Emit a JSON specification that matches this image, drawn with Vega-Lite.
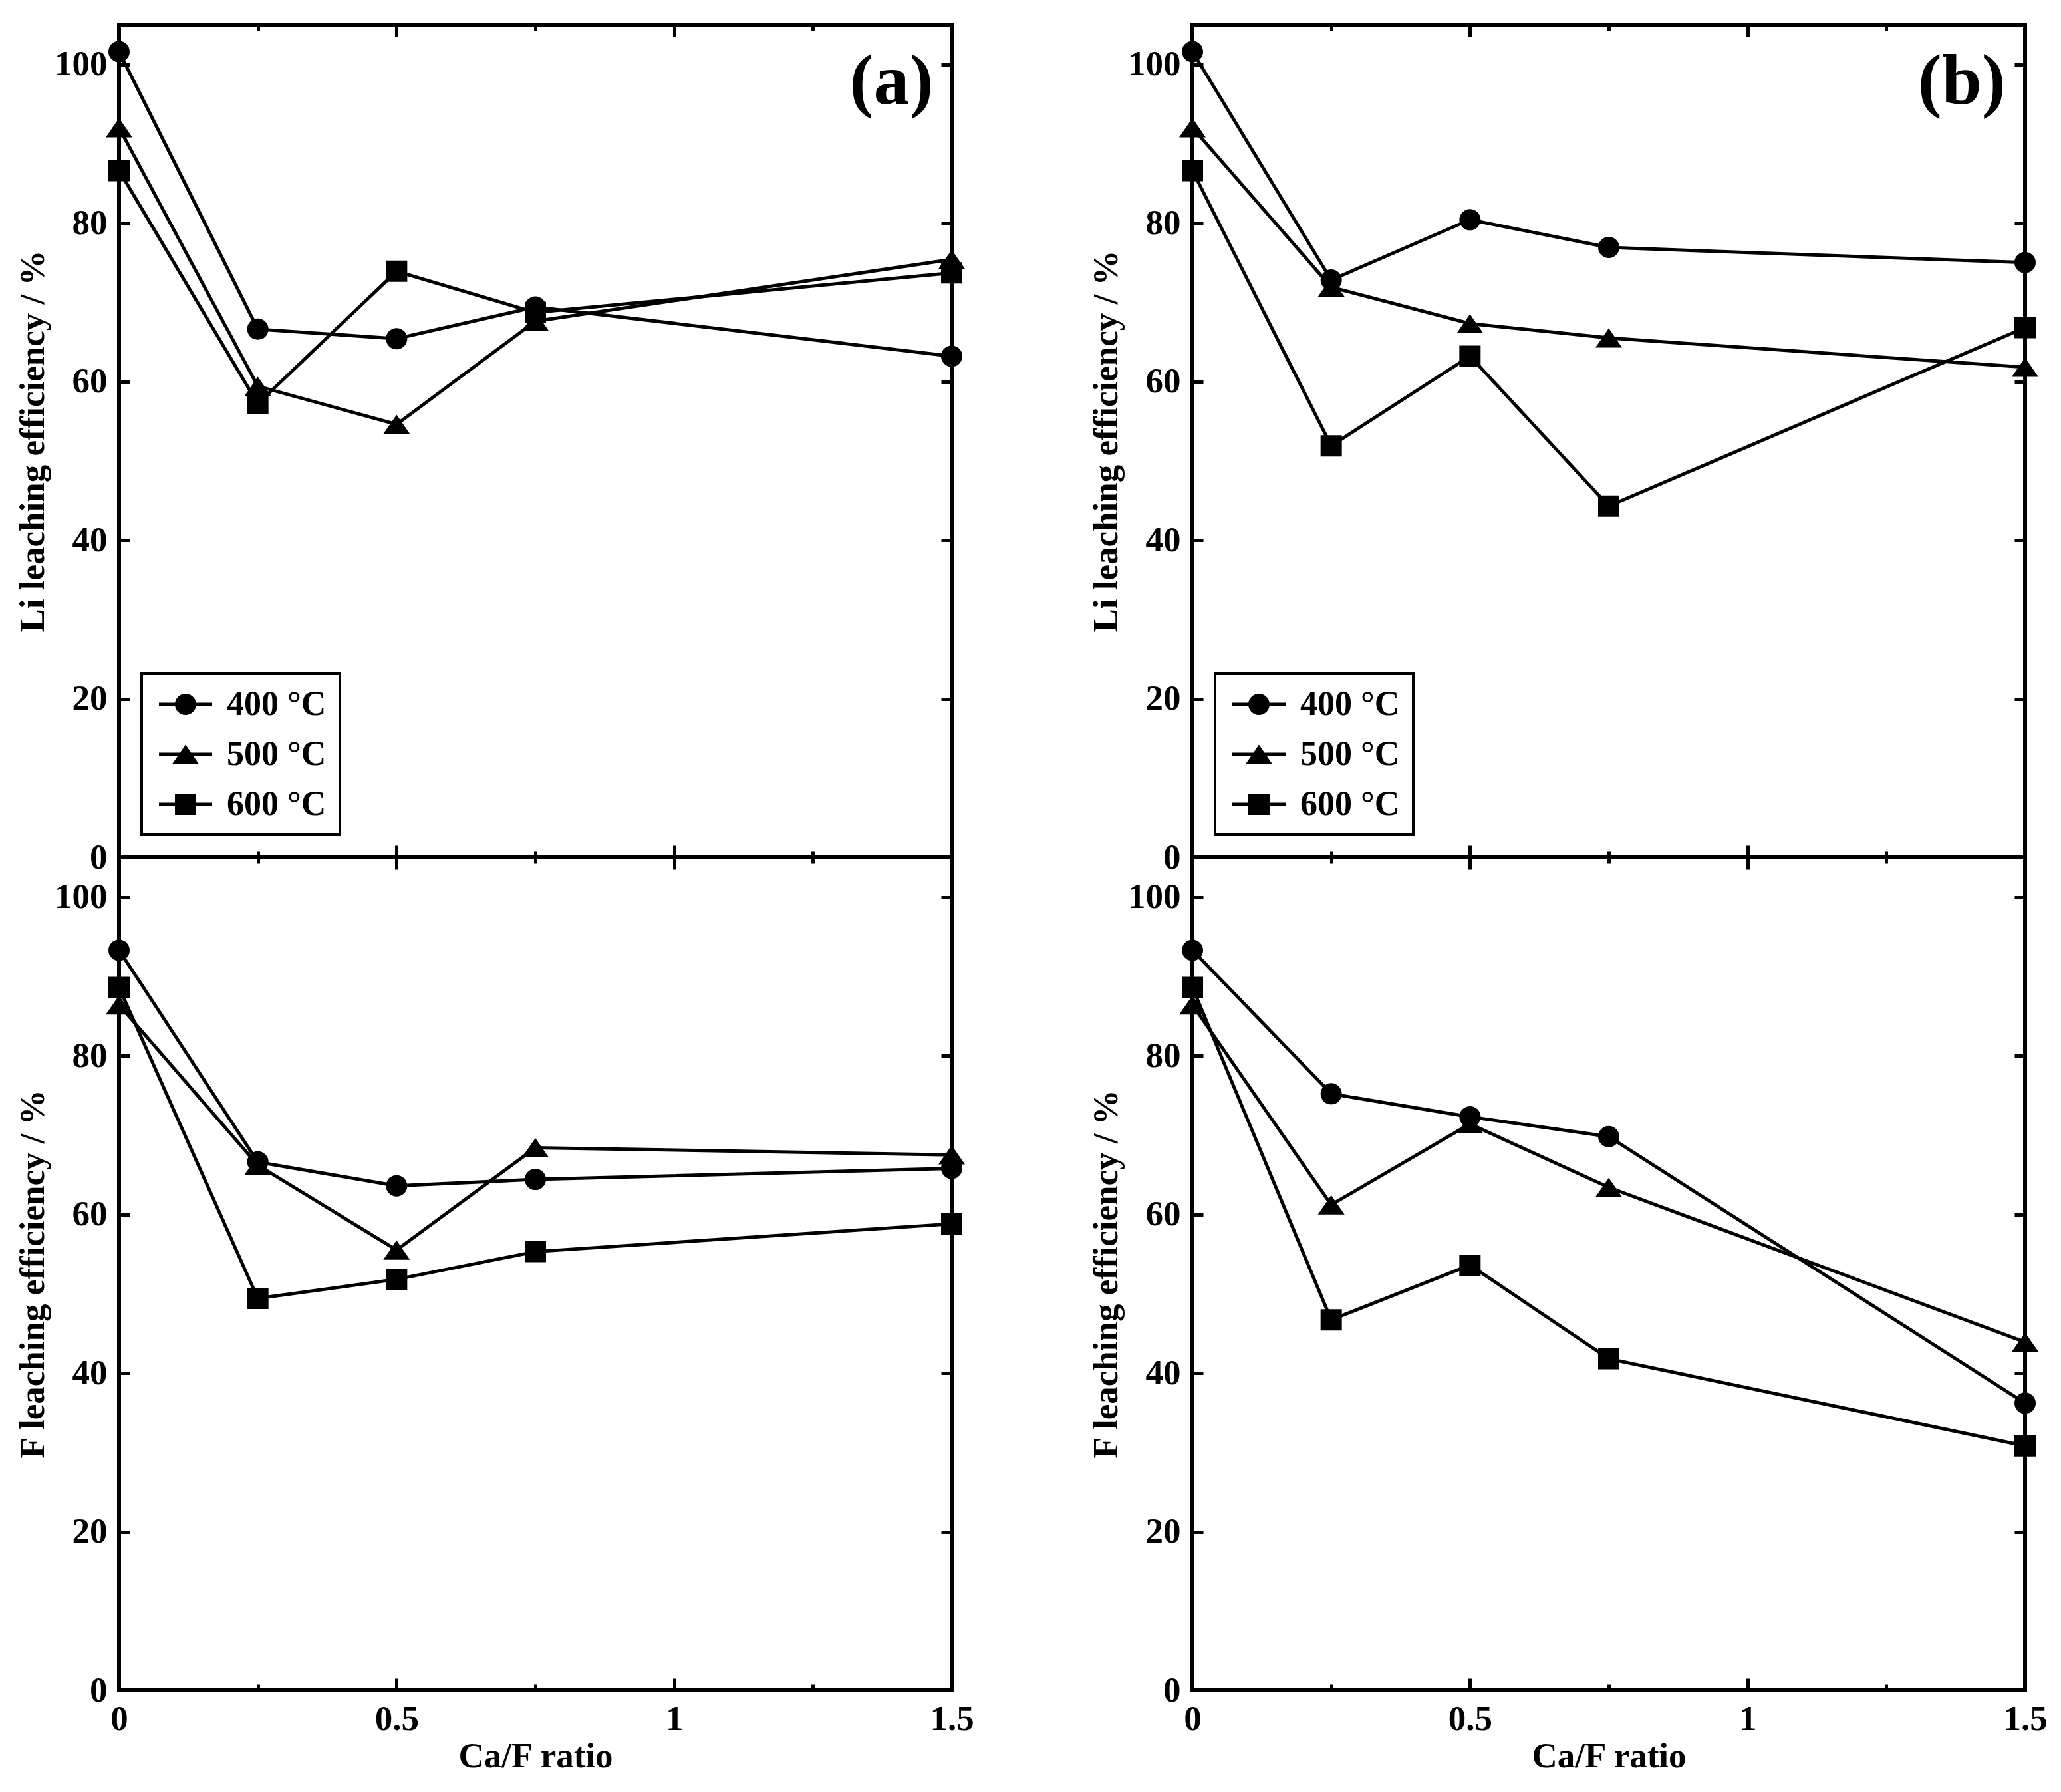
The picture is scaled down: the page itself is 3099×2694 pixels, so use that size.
{
  "$schema": "https://vega.github.io/schema/vega-lite/v6.json",
  "background": "white",
  "padding": {"left": 20, "top": 31, "right": 10, "bottom": 10},
  "datasets": {
    "leach": [
      {"panel": "a", "metal": "Li", "temp": "400 °C", "ratio": 0, "eff": 101.6},
      {"panel": "a", "metal": "Li", "temp": "400 °C", "ratio": 0.25, "eff": 66.6},
      {"panel": "a", "metal": "Li", "temp": "400 °C", "ratio": 0.5, "eff": 65.4},
      {"panel": "a", "metal": "Li", "temp": "400 °C", "ratio": 0.75, "eff": 69.4},
      {"panel": "a", "metal": "Li", "temp": "400 °C", "ratio": 1.5, "eff": 63.2},
      {"panel": "a", "metal": "Li", "temp": "500 °C", "ratio": 0, "eff": 92.0},
      {"panel": "a", "metal": "Li", "temp": "500 °C", "ratio": 0.25, "eff": 59.4},
      {"panel": "a", "metal": "Li", "temp": "500 °C", "ratio": 0.5, "eff": 54.6},
      {"panel": "a", "metal": "Li", "temp": "500 °C", "ratio": 0.75, "eff": 67.6},
      {"panel": "a", "metal": "Li", "temp": "500 °C", "ratio": 1.5, "eff": 75.4},
      {"panel": "a", "metal": "Li", "temp": "600 °C", "ratio": 0, "eff": 86.6},
      {"panel": "a", "metal": "Li", "temp": "600 °C", "ratio": 0.25, "eff": 57.2},
      {"panel": "a", "metal": "Li", "temp": "600 °C", "ratio": 0.5, "eff": 73.9},
      {"panel": "a", "metal": "Li", "temp": "600 °C", "ratio": 0.75, "eff": 68.7},
      {"panel": "a", "metal": "Li", "temp": "600 °C", "ratio": 1.5, "eff": 73.7},
      {"panel": "a", "metal": "F", "temp": "400 °C", "ratio": 0, "eff": 93.3},
      {"panel": "a", "metal": "F", "temp": "400 °C", "ratio": 0.25, "eff": 66.6},
      {"panel": "a", "metal": "F", "temp": "400 °C", "ratio": 0.5, "eff": 63.6},
      {"panel": "a", "metal": "F", "temp": "400 °C", "ratio": 0.75, "eff": 64.4},
      {"panel": "a", "metal": "F", "temp": "400 °C", "ratio": 1.5, "eff": 65.8},
      {"panel": "a", "metal": "F", "temp": "500 °C", "ratio": 0, "eff": 86.4},
      {"panel": "a", "metal": "F", "temp": "500 °C", "ratio": 0.25, "eff": 66.2},
      {"panel": "a", "metal": "F", "temp": "500 °C", "ratio": 0.5, "eff": 55.5},
      {"panel": "a", "metal": "F", "temp": "500 °C", "ratio": 0.75, "eff": 68.4},
      {"panel": "a", "metal": "F", "temp": "500 °C", "ratio": 1.5, "eff": 67.5},
      {"panel": "a", "metal": "F", "temp": "600 °C", "ratio": 0, "eff": 88.6},
      {"panel": "a", "metal": "F", "temp": "600 °C", "ratio": 0.25, "eff": 49.4},
      {"panel": "a", "metal": "F", "temp": "600 °C", "ratio": 0.5, "eff": 51.8},
      {"panel": "a", "metal": "F", "temp": "600 °C", "ratio": 0.75, "eff": 55.3},
      {"panel": "a", "metal": "F", "temp": "600 °C", "ratio": 1.5, "eff": 58.8},
      {"panel": "b", "metal": "Li", "temp": "400 °C", "ratio": 0, "eff": 101.6},
      {"panel": "b", "metal": "Li", "temp": "400 °C", "ratio": 0.25, "eff": 72.8},
      {"panel": "b", "metal": "Li", "temp": "400 °C", "ratio": 0.5, "eff": 80.4},
      {"panel": "b", "metal": "Li", "temp": "400 °C", "ratio": 0.75, "eff": 76.9},
      {"panel": "b", "metal": "Li", "temp": "400 °C", "ratio": 1.5, "eff": 75.0},
      {"panel": "b", "metal": "Li", "temp": "500 °C", "ratio": 0, "eff": 92.0},
      {"panel": "b", "metal": "Li", "temp": "500 °C", "ratio": 0.25, "eff": 71.9},
      {"panel": "b", "metal": "Li", "temp": "500 °C", "ratio": 0.5, "eff": 67.3},
      {"panel": "b", "metal": "Li", "temp": "500 °C", "ratio": 0.75, "eff": 65.5},
      {"panel": "b", "metal": "Li", "temp": "500 °C", "ratio": 1.5, "eff": 61.8},
      {"panel": "b", "metal": "Li", "temp": "600 °C", "ratio": 0, "eff": 86.6},
      {"panel": "b", "metal": "Li", "temp": "600 °C", "ratio": 0.25, "eff": 51.9},
      {"panel": "b", "metal": "Li", "temp": "600 °C", "ratio": 0.5, "eff": 63.2},
      {"panel": "b", "metal": "Li", "temp": "600 °C", "ratio": 0.75, "eff": 44.3},
      {"panel": "b", "metal": "Li", "temp": "600 °C", "ratio": 1.5, "eff": 66.8},
      {"panel": "b", "metal": "F", "temp": "400 °C", "ratio": 0, "eff": 93.3},
      {"panel": "b", "metal": "F", "temp": "400 °C", "ratio": 0.25, "eff": 75.2},
      {"panel": "b", "metal": "F", "temp": "400 °C", "ratio": 0.5, "eff": 72.3},
      {"panel": "b", "metal": "F", "temp": "400 °C", "ratio": 0.75, "eff": 69.8},
      {"panel": "b", "metal": "F", "temp": "400 °C", "ratio": 1.5, "eff": 36.2},
      {"panel": "b", "metal": "F", "temp": "500 °C", "ratio": 0, "eff": 86.4},
      {"panel": "b", "metal": "F", "temp": "500 °C", "ratio": 0.25, "eff": 61.2},
      {"panel": "b", "metal": "F", "temp": "500 °C", "ratio": 0.5, "eff": 71.4},
      {"panel": "b", "metal": "F", "temp": "500 °C", "ratio": 0.75, "eff": 63.4},
      {"panel": "b", "metal": "F", "temp": "500 °C", "ratio": 1.5, "eff": 43.9},
      {"panel": "b", "metal": "F", "temp": "600 °C", "ratio": 0, "eff": 88.6},
      {"panel": "b", "metal": "F", "temp": "600 °C", "ratio": 0.25, "eff": 46.7},
      {"panel": "b", "metal": "F", "temp": "600 °C", "ratio": 0.5, "eff": 53.6},
      {"panel": "b", "metal": "F", "temp": "600 °C", "ratio": 0.75, "eff": 41.8},
      {"panel": "b", "metal": "F", "temp": "600 °C", "ratio": 1.5, "eff": 30.8}
    ]
  },
  "columns": 2,
  "bounds": "flush",
  "spacing": {"row": 0, "column": 362},
  "resolve": {"scale": {"shape": "independent", "color": "independent"}, "legend": {"shape": "independent", "color": "independent"}},
  "concat": [
    {
      "width": 1252, "height": 1252,
      "data": {"name": "leach"},
      "layer": [
        {
          "transform": [{"filter": "datum.panel === 'a' && datum.metal === 'Li'"}],
          "mark": {"type": "line", "color": "black", "strokeWidth": 5},
          "encoding": {
            "x": {"field": "ratio", "type": "quantitative", "scale": {"domain": [0, 1.5], "nice": false, "zero": false},
              "axis": {"orient": "bottom", "values": [0, 0.25, 0.5, 0.75, 1, 1.25, 1.5], "tickSize": {"condition": {"test": "datum.value % 0.5 === 0", "value": -18}, "value": -9}, "labels": false, "title": null}},
            "y": {"field": "eff", "type": "quantitative", "scale": {"domain": [0, 105], "nice": false},
              "axis": {"orient": "left", "values": [0, 20, 40, 60, 80, 100], "tickSize": -16, "labelPadding": 34, "title": "Li leaching efficiency / %", "titlePadding": 5}},
            "detail": {"field": "temp"}
          }
        },
        {
          "transform": [{"filter": "datum.panel === 'a' && datum.metal === 'Li'"}],
          "mark": {"type": "point", "filled": true, "opacity": 1},
          "encoding": {
            "x": {"field": "ratio", "type": "quantitative",
              "axis": {"orient": "top", "values": [0, 0.25, 0.5, 0.75, 1, 1.25, 1.5], "tickSize": {"condition": {"test": "datum.value % 0.5 === 0", "value": -18}, "value": -9}, "labels": false, "title": null}},
            "y": {"field": "eff", "type": "quantitative",
              "axis": {"orient": "right", "values": [0, 20, 40, 60, 80, 100], "tickSize": -16, "labels": false, "title": null}},
            "shape": {"field": "temp", "type": "nominal",
              "scale": {"range": ["circle", "M0,-0.9L1.25,0.9L-1.25,0.9Z", "square"]}, "legend": null},
            "color": {"field": "temp", "type": "nominal",
              "scale": {"domain": ["400 °C", "500 °C", "600 °C"], "range": ["black", "black", "black"]},
              "legend": {"title": null, "orient": "bottom-left", "offset": 34, "padding": 20, "symbolOffset": 20, "labelOffset": 36, "rowPadding": 23,
                "symbolType": {"expr": "datum.value === '400 °C' ? 'M-2.5,-0.16H2.5V0.16H-2.5ZM-1,0A1,1 0 1,1 1,0A1,1 0 1,1 -1,0Z' : datum.value === '500 °C' ? 'M-2.5,-0.16H2.5V0.16H-2.5ZM0,-0.9L1.25,0.9L-1.25,0.9Z' : 'M-2.5,-0.16H2.5V0.16H-2.5ZM-1,-1H1V1H-1Z'"}}
            }
          }
        },
        {
          "data": {"values": [{"label": "(a)"}]},
          "mark": {"type": "text", "align": "right", "baseline": "alphabetic", "fontSize": 108, "fontWeight": "bold", "font": "Liberation Serif", "color": "black"},
          "encoding": {
            "x": {"datum": 1.467, "type": "quantitative", "axis": null},
            "y": {"datum": 95, "type": "quantitative", "axis": null},
            "text": {"field": "label"}
          }
        }
      ],
      "resolve": {"axis": {"x": "independent", "y": "independent"}}
    },
    {
      "width": 1252, "height": 1252,
      "data": {"name": "leach"},
      "layer": [
        {
          "transform": [{"filter": "datum.panel === 'b' && datum.metal === 'Li'"}],
          "mark": {"type": "line", "color": "black", "strokeWidth": 5},
          "encoding": {
            "x": {"field": "ratio", "type": "quantitative", "scale": {"domain": [0, 1.5], "nice": false, "zero": false},
              "axis": {"orient": "bottom", "values": [0, 0.25, 0.5, 0.75, 1, 1.25, 1.5], "tickSize": {"condition": {"test": "datum.value % 0.5 === 0", "value": -18}, "value": -9}, "labels": false, "title": null}},
            "y": {"field": "eff", "type": "quantitative", "scale": {"domain": [0, 105], "nice": false},
              "axis": {"orient": "left", "values": [0, 20, 40, 60, 80, 100], "tickSize": -16, "labelPadding": 34, "title": "Li leaching efficiency / %", "titlePadding": 5}},
            "detail": {"field": "temp"}
          }
        },
        {
          "transform": [{"filter": "datum.panel === 'b' && datum.metal === 'Li'"}],
          "mark": {"type": "point", "filled": true, "opacity": 1},
          "encoding": {
            "x": {"field": "ratio", "type": "quantitative",
              "axis": {"orient": "top", "values": [0, 0.25, 0.5, 0.75, 1, 1.25, 1.5], "tickSize": {"condition": {"test": "datum.value % 0.5 === 0", "value": -18}, "value": -9}, "labels": false, "title": null}},
            "y": {"field": "eff", "type": "quantitative",
              "axis": {"orient": "right", "values": [0, 20, 40, 60, 80, 100], "tickSize": -16, "labels": false, "title": null}},
            "shape": {"field": "temp", "type": "nominal",
              "scale": {"range": ["circle", "M0,-0.9L1.25,0.9L-1.25,0.9Z", "square"]}, "legend": null},
            "color": {"field": "temp", "type": "nominal",
              "scale": {"domain": ["400 °C", "500 °C", "600 °C"], "range": ["black", "black", "black"]},
              "legend": {"title": null, "orient": "bottom-left", "offset": 34, "padding": 20, "symbolOffset": 20, "labelOffset": 36, "rowPadding": 23,
                "symbolType": {"expr": "datum.value === '400 °C' ? 'M-2.5,-0.16H2.5V0.16H-2.5ZM-1,0A1,1 0 1,1 1,0A1,1 0 1,1 -1,0Z' : datum.value === '500 °C' ? 'M-2.5,-0.16H2.5V0.16H-2.5ZM0,-0.9L1.25,0.9L-1.25,0.9Z' : 'M-2.5,-0.16H2.5V0.16H-2.5ZM-1,-1H1V1H-1Z'"}}
            }
          }
        },
        {
          "data": {"values": [{"label": "(b)"}]},
          "mark": {"type": "text", "align": "right", "baseline": "alphabetic", "fontSize": 108, "fontWeight": "bold", "font": "Liberation Serif", "color": "black"},
          "encoding": {
            "x": {"datum": 1.465, "type": "quantitative", "axis": null},
            "y": {"datum": 95, "type": "quantitative", "axis": null},
            "text": {"field": "label"}
          }
        }
      ],
      "resolve": {"axis": {"x": "independent", "y": "independent"}}
    },
    {
      "width": 1252, "height": 1252,
      "data": {"name": "leach"},
      "layer": [
        {
          "transform": [{"filter": "datum.panel === 'a' && datum.metal === 'F'"}],
          "mark": {"type": "line", "color": "black", "strokeWidth": 5},
          "encoding": {
            "x": {"field": "ratio", "type": "quantitative", "scale": {"domain": [0, 1.5], "nice": false, "zero": false},
              "axis": {"orient": "bottom", "values": [0, 0.25, 0.5, 0.75, 1, 1.25, 1.5], "tickSize": {"condition": {"test": "datum.value % 0.5 === 0", "value": -18}, "value": -9}, "labelExpr": "datum.value % 0.5 === 0 ? format(datum.value, '~g') : ''", "labelPadding": 35, "title": "Ca/F ratio", "titlePadding": -6}},
            "y": {"field": "eff", "type": "quantitative", "scale": {"domain": [0, 105], "nice": false},
              "axis": {"orient": "left", "values": [0, 20, 40, 60, 80, 100], "tickSize": -16, "labelPadding": 34, "title": "F leaching efficiency / %", "titlePadding": 5}},
            "detail": {"field": "temp"}
          }
        },
        {
          "transform": [{"filter": "datum.panel === 'a' && datum.metal === 'F'"}],
          "mark": {"type": "point", "filled": true, "color": "black", "opacity": 1},
          "encoding": {
            "x": {"field": "ratio", "type": "quantitative",
              "axis": {"orient": "top", "values": [0, 0.25, 0.5, 0.75, 1, 1.25, 1.5], "tickSize": {"condition": {"test": "datum.value % 0.5 === 0", "value": -18}, "value": -9}, "labels": false, "title": null}},
            "y": {"field": "eff", "type": "quantitative",
              "axis": {"orient": "right", "values": [0, 20, 40, 60, 80, 100], "tickSize": -16, "labels": false, "title": null}},
            "shape": {"field": "temp", "type": "nominal",
              "scale": {"domain": ["400 °C", "500 °C", "600 °C"], "range": ["circle", "M0,-0.9L1.25,0.9L-1.25,0.9Z", "square"]},
              "legend": null}
          }
        }
      ],
      "resolve": {"axis": {"x": "independent", "y": "independent"}}
    },
    {
      "width": 1252, "height": 1252,
      "data": {"name": "leach"},
      "layer": [
        {
          "transform": [{"filter": "datum.panel === 'b' && datum.metal === 'F'"}],
          "mark": {"type": "line", "color": "black", "strokeWidth": 5},
          "encoding": {
            "x": {"field": "ratio", "type": "quantitative", "scale": {"domain": [0, 1.5], "nice": false, "zero": false},
              "axis": {"orient": "bottom", "values": [0, 0.25, 0.5, 0.75, 1, 1.25, 1.5], "tickSize": {"condition": {"test": "datum.value % 0.5 === 0", "value": -18}, "value": -9}, "labelExpr": "datum.value % 0.5 === 0 ? format(datum.value, '~g') : ''", "labelPadding": 35, "title": "Ca/F ratio", "titlePadding": -6}},
            "y": {"field": "eff", "type": "quantitative", "scale": {"domain": [0, 105], "nice": false},
              "axis": {"orient": "left", "values": [0, 20, 40, 60, 80, 100], "tickSize": -16, "labelPadding": 34, "title": "F leaching efficiency / %", "titlePadding": 5}},
            "detail": {"field": "temp"}
          }
        },
        {
          "transform": [{"filter": "datum.panel === 'b' && datum.metal === 'F'"}],
          "mark": {"type": "point", "filled": true, "color": "black", "opacity": 1},
          "encoding": {
            "x": {"field": "ratio", "type": "quantitative",
              "axis": {"orient": "top", "values": [0, 0.25, 0.5, 0.75, 1, 1.25, 1.5], "tickSize": {"condition": {"test": "datum.value % 0.5 === 0", "value": -18}, "value": -9}, "labels": false, "title": null}},
            "y": {"field": "eff", "type": "quantitative",
              "axis": {"orient": "right", "values": [0, 20, 40, 60, 80, 100], "tickSize": -16, "labels": false, "title": null}},
            "shape": {"field": "temp", "type": "nominal",
              "scale": {"domain": ["400 °C", "500 °C", "600 °C"], "range": ["circle", "M0,-0.9L1.25,0.9L-1.25,0.9Z", "square"]},
              "legend": null}
          }
        }
      ],
      "resolve": {"axis": {"x": "independent", "y": "independent"}}
    }
  ],
  "config": {
    "view": {"stroke": "black", "strokeWidth": 6},
    "font": "Liberation Serif",
    "point": {"size": 1024},
    "axis": {
      "domain": false, "grid": false, "tickColor": "black", "tickWidth": 5,
      "labelFont": "Liberation Serif", "labelFontSize": 53, "labelFontWeight": "bold", "labelColor": "black",
      "labelFlush": false, "labelOverlap": false, "labelBound": false,
      "titleFont": "Liberation Serif", "titleFontSize": 53, "titleFontWeight": "bold", "titleColor": "black"
    },
    "legend": {
      "strokeColor": "black", "strokeWidth": 4, "fillColor": "white",
      "labelFont": "Liberation Serif", "labelFontSize": 52, "labelFontWeight": "bold", "labelColor": "black", "labelLimit": 0,
      "symbolSize": 1024, "symbolFillColor": "black", "symbolStrokeColor": "black", "symbolStrokeWidth": 0
    }
  }
}
